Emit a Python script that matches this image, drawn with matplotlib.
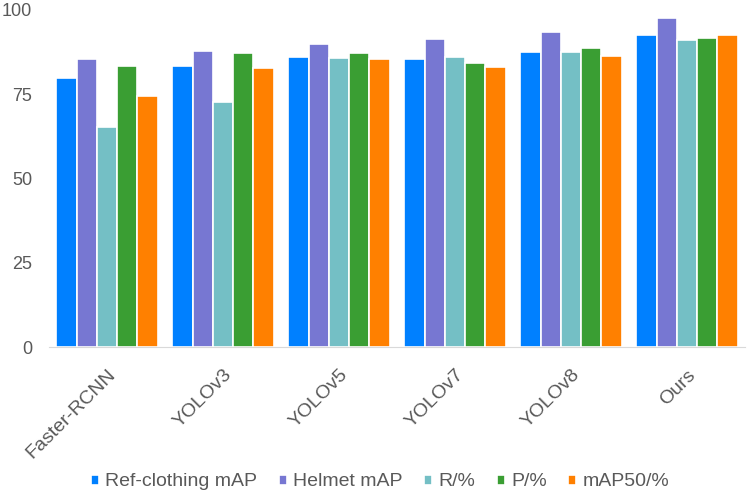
import numpy as np
import matplotlib
matplotlib.use("Agg")
import matplotlib.pyplot as plt

plt.rcParams["font.family"] = ["Liberation Sans", "DejaVu Sans"]

models = ["Faster-RCNN", "YOLOv3", "YOLOv5", "YOLOv7", "YOLOv8", "Ours"]
series = ["Ref-clothing mAP", "Helmet mAP", "R/%", "P/%", "mAP50/%"]
ref_clothing = [79.8, 83.5, 86.1, 85.6, 87.6, 92.5]
helmet = [85.6, 87.9, 89.9, 91.3, 93.6, 97.6]
recall = [65.2, 72.7, 85.9, 86.1, 87.6, 91.0]
precision = [83.3, 87.3, 87.3, 84.4, 88.7, 91.8]
map50 = [74.5, 82.7, 85.5, 83.2, 86.4, 92.5]
colors = ["#0080FF", "#7777D2", "#74BFC5", "#3A9E33", "#FF8000"]

values = [ref_clothing, helmet, recall, precision, map50]

fig = plt.figure(figsize=(7.49, 4.95), dpi=100)
ax = fig.add_axes([49 / 749, 1 - 347 / 495, 696 / 749, 337 / 495])

x = np.arange(len(models))
pitch = 0.175
for i, (name, vals, c) in enumerate(zip(series, values, colors)):
    ax.bar(x + (i - 2) * pitch, vals, width=pitch, color=c, edgecolor="white",
           linewidth=1.2, label=name)

ax.set_xlim(-0.5, len(models) - 0.5)
ax.set_ylim(0, 100)
ax.set_yticks([0, 25, 50, 75, 100])
ax.set_xticks(x)
ax.set_xticklabels(models, rotation=45, ha="right", rotation_mode="anchor")
ax.tick_params(axis="both", length=0, labelsize=13, colors="#595959")
ax.tick_params(axis="x", pad=14, labelsize=14)
ax.tick_params(axis="y", pad=12)
for s in ["top", "right", "left"]:
    ax.spines[s].set_visible(False)
ax.spines["bottom"].set_color("#D9D9D9")

fig.legend(loc="center", bbox_to_anchor=(380 / 749, 1 - 482 / 495), ncol=5,
           frameon=False, fontsize=14, handlelength=0.42, handleheight=0.42,
           handletextpad=0.32, columnspacing=1.1, labelcolor="#595959")

fig.savefig("out.png", dpi=100)
